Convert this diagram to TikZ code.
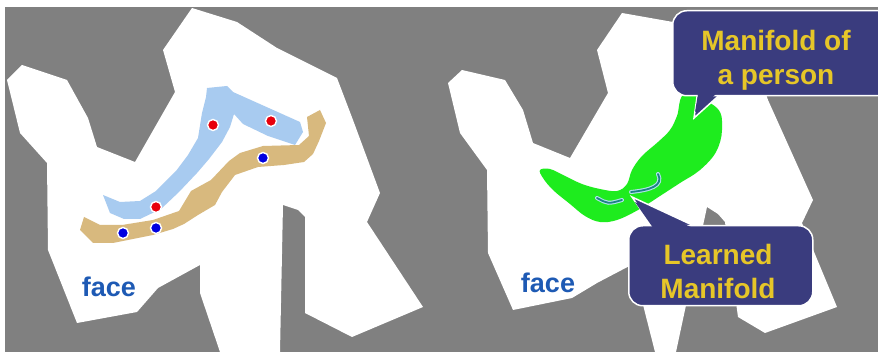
\documentclass[tikz,border=0pt]{standalone}
\usepackage{fontspec}
\setmainfont{Liberation Sans}
\usepackage{xcolor}
\usepackage{tikz}
\usetikzlibrary{positioning}

\definecolor{bggray}{RGB}{128,128,128}
\definecolor{bandblue}{RGB}{168,203,240}
\definecolor{bandtan}{RGB}{216,185,126}
\definecolor{dotred}{RGB}{232,0,12}
\definecolor{dotblue}{RGB}{0,0,224}
\definecolor{facetxt}{RGB}{30,90,180}
\definecolor{bubblenavy}{RGB}{58,60,126}
\definecolor{bubbletxt}{RGB}{230,198,40}
\definecolor{manigreen}{RGB}{30,236,30}
\definecolor{learnteal}{RGB}{30,130,135}
\definecolor{learnedge}{RGB}{175,225,235}

\begin{document}
\begin{tikzpicture}[
    x=1pt, y=-1pt,
    facebody/.style={fill=white},
    dotmark/.style={circle, draw=white, line width=1.4pt, inner sep=0pt, minimum size=11pt},
    reddot/.style={dotmark, fill=dotred},
    bluedot/.style={dotmark, fill=dotblue},
    facelabel/.style={font=\fontsize{27}{30}\selectfont\bfseries, text=facetxt, anchor=base, inner sep=0pt},
    bubble/.style={rectangle, rounded corners=14pt, fill=bubblenavy, draw=white, line width=1.5pt, anchor=north west},
    bubblelabel/.style={font=\fontsize{28}{34}\selectfont\bfseries, text=bubbletxt, align=center, inner sep=0pt},
    tail/.style={fill=bubblenavy, draw=white, line width=1.5pt, line join=miter}
]
\useasboundingbox (0,0) rectangle (878,352);
\fill[white] (0,0) rectangle (878,352);
\fill[bggray] (5,7) rectangle (878,352);

\fill[facebody] (192,8) -- (237,22) -- (277,48) -- (337,78) -- (353,120) -- (380,193)
  -- (367,222) -- (423,307) -- (352,337) -- (305,313) -- (305,217) -- (298,210)
  -- (283,205) -- (280,352) -- (220,352) -- (200,293) -- (200,265) -- (158,288)
  -- (137,312) -- (77,323) -- (48,250) -- (47,163) -- (20,133) -- (7,80) -- (22,65)
  -- (67,80) -- (88,118) -- (97,147) -- (135,162) -- (175,92) -- (163,50) -- cycle;

\fill[bandblue] (103,195) -- (120,202) -- (140,201) -- (156,191) -- (176,171) -- (188,155)
  -- (198,138) -- (202,113) -- (206,97) -- (207,88) -- (227,86) -- (233,92) -- (300,122)
  -- (303,132) -- (295,145) -- (268,136) -- (243,124) -- (234,114) -- (230,127)
  -- (222,142) -- (209,159) -- (197,173) -- (179,192) -- (161,209) -- (140,219)
  -- (124,219) -- (110,213) -- cycle;

\fill[bandtan] (84,217) -- (100,225) -- (122,225) -- (153,220) -- (179,211) -- (191,191)
  -- (211,180) -- (229,161) -- (240,153) -- (263,146) -- (299,145) -- (309,136)
  -- (307,117) -- (320,110) -- (326,123) -- (319,141) -- (313,154) -- (304,162)
  -- (284,165) -- (258,167) -- (235,175) -- (222,192) -- (215,205) -- (198,215)
  -- (184,224) -- (173,229) -- (153,235) -- (133,239) -- (113,243) -- (93,243)
  -- (80,230) -- cycle;

\foreach \p [count=\i] in {(213,125),(271,121),(156,207)}
  \node[reddot] (red\i) at \p {};
\foreach \p [count=\i] in {(263,158),(156,228),(123,233)}
  \node[bluedot] (blue\i) at \p {};

\node[facelabel] (faceL) at (109,297) {face};

\fill[facebody] (622,13) -- (673,22) -- (717,50) -- (760,77) -- (768,100) -- (813,200)
  -- (802,223) -- (837,307) -- (765,333) -- (738,317) -- (725,222) -- (718,214)
  -- (707,207) -- (676,352) -- (655,352) -- (640,293) -- (637,262) -- (597,283)
  -- (572,298) -- (513,310) -- (488,253) -- (487,170) -- (460,133) -- (448,83)
  -- (462,70) -- (505,80) -- (523,110) -- (533,143) -- (570,158) -- (608,93)
  -- (597,50) -- cycle;

\fill[manigreen] plot[smooth cycle, tension=0.6] coordinates {
  (685,94) (717,108) (722,130) (716,152) (700,170) (680,183) (660,196) (638,210)
  (617,220) (600,222) (585,216) (570,204) (553,190) (543,178) (540,170) (550,169)
  (565,176) (582,184) (600,189) (617,191) (627,184) (632,170) (642,156) (658,142)
  (670,130) (677,116)};

\draw[learnedge, line width=4pt, line cap=round] (597,198) .. controls (608,204) .. (622,200);
\draw[learnteal, line width=1.8pt, line cap=round] (597,198) .. controls (608,204) .. (622,200);
\draw[learnedge, line width=4pt, line cap=round] (631,192) .. controls (650,190) and (664,186) .. (658,174);
\draw[learnteal, line width=1.8pt, line cap=round] (631,192) .. controls (650,190) and (664,186) .. (658,174);

\node[facelabel] (faceR) at (548,293) {face};

\coordinate (persontip) at (694,118);
\coordinate (learnedtip) at (632,197);
\draw[tail] (698,90) -- (persontip) -- (725,90);
\node[bubble, minimum width=230pt, minimum height=85pt] (personbox) at (672,10) {};
\fill[bubblenavy] (699,88) -- (695,112) -- (723,88) -- cycle;
\node[bubblelabel] (personlabel) at (776,60) {Manifold of\\a person};

\draw[tail] (655,230) -- (learnedtip) -- (703,230);
\node[bubble, minimum width=184pt, minimum height=80pt] (learnedbox) at (628,225) {};
\fill[bubblenavy] (656,232) -- (635,202) -- (702,232) -- cycle;
\node[bubblelabel] (learnedlabel) at (718,271) {Learned\\Manifold};
\end{tikzpicture}
\end{document}
